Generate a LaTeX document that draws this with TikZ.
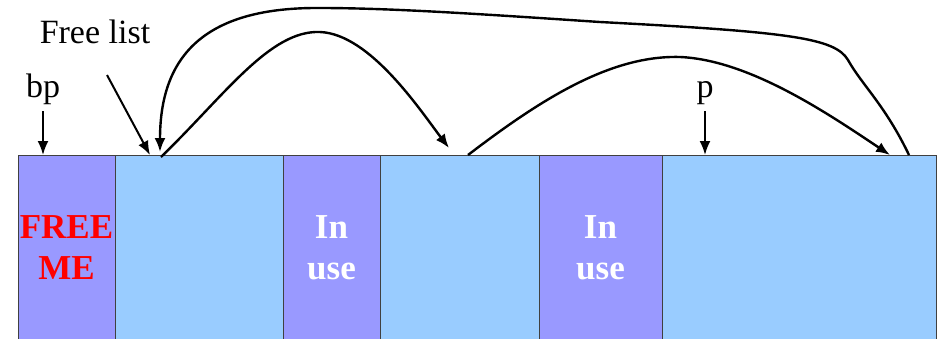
\documentclass[tikz,border=0pt]{standalone}
\usepackage{fontspec}
\setmainfont{Liberation Serif}
\usetikzlibrary{arrows.meta,positioning}
\definecolor{usedcol}{HTML}{9999FF}
\definecolor{freecol}{HTML}{99CCFF}

\begin{document}
\begin{tikzpicture}[x=1pt,y=-1pt,
		blk/.style={draw=black!75,line width=0.8pt,anchor=north west,inner sep=0pt,outer sep=0pt,
			minimum height=185pt,align=center,font=\fontsize{35}{41}\selectfont\bfseries},
		usedblk/.style={blk,fill=usedcol,text=white},
		freeblk/.style={blk,fill=freecol},
		lbl/.style={font=\fontsize{34}{40}\selectfont,inner sep=0pt,anchor=base},
		ptr/.style={-{Latex[length=14pt,width=11pt]},line width=2pt},
		link/.style={ptr,line width=2.4pt}]
		\useasboundingbox (0,0) rectangle (943,338);
		\clip (0,0) rectangle (943,338);
		% Heap blocks
		\node[usedblk,minimum width=97pt,text=red] (b1) at (18,155) {FREE\\ME};
		\node[freeblk,minimum width=168pt] (b2) at (b1.north east) {};
		\node[usedblk,minimum width=97pt] (b3) at (b2.north east) {In\\use};
		\node[freeblk,minimum width=159pt] (b4) at (b3.north east) {};
		\node[usedblk,minimum width=123pt] (b5) at (b4.north east) {In\\use};
		\node[freeblk,minimum width=274pt] (b6) at (b5.north east) {};
		% Labels
		\node[lbl] (fl) at (95,43) {Free list};
		\node[lbl] (bp) at (43,97) {bp};
		\node[lbl] (p) at (705,97) {p};
		% Link ends on block tops
		\coordinate (fltail) at (107,75);
		\coordinate (h2in) at (160,152);
		\coordinate (h2out) at (161,157);
		\coordinate (h4in) at (449,148);
		\coordinate (h4out) at (468,155);
		\coordinate (h6in) at (890,155);
		\coordinate (h6out) at (909,155);
		% Pointers
		\draw[ptr,shorten <=7pt] (bp) -- (bp |- b1.north);
		\draw[ptr,shorten <=7pt] (p) -- (p |- b6.north);
		\draw[ptr] (fltail) -- (150,155);
		% Free list links
		\draw[link] (h2out) .. controls (225,95) and (270,30) .. (320,32)
			.. controls (370,34) and (420,110) .. (h4in);
		\draw[link] (h4out) .. controls (540,100) and (610,55) .. (680,57)
			.. controls (750,60) and (830,115) .. (h6in);
		\draw[link] (h6out) .. controls (885,105) and (862,85) .. (848,60)
			.. controls (835,38) and (790,32) .. (600,22)
			.. controls (480,14) and (390,8) .. (320,8)
			.. controls (200,7) and (160,60) .. (h2in);
	\end{tikzpicture}
\end{document}
